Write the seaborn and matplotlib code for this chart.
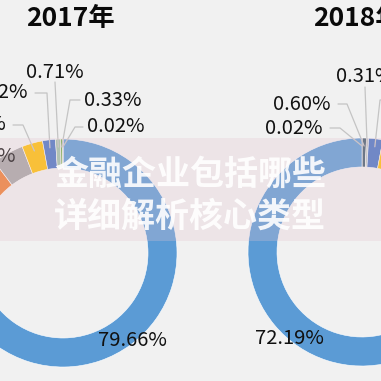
import numpy as np
import matplotlib
matplotlib.use("Agg")
import matplotlib.pyplot as plt
import seaborn as sns

# --------------------------------------------------
# DATA
# --------------------------------------------------

# 2017 slices, clockwise from 12 o'clock
values_2017 = [79.66, 10.10, 4.41, 2.95, 1.82, 0.71, 0.33, 0.02]
labels_2017 = ["79.66%", "10.10%", "4.41%", "2.95%", "1.82%", "0.71%", "0.33%", "0.02%"]
colors_2017 = ["#5b9bd5", "#ed7d31", "#a5a5a5", "#ffc000", "#4472c4", "#9ec2a8", "#70ad47", "#3f5f4a"]

# 2018 slices, clockwise from 12 o'clock
values_2018 = [0.02, 0.60, 0.31, 2.00, 4.20, 6.60, 14.08, 72.19]
labels_2018 = ["0.02%", "0.60%", "0.31%", "2.00%", "4.20%", "6.60%", "14.08%", "72.19%"]
colors_2018 = ["#2e4a6b", "#3e5a6c", "#b8c8c0", "#4472c4", "#ffc000", "#a5a5a5", "#ed7d31", "#5b9bd5"]

titles = ["2017年", "2018年"]
watermark = "金融企业包括哪些\n详细解析核心类型"

# --------------------------------------------------
# LAYOUT (pixel positions, y measured from top)
# --------------------------------------------------

H = 381
centers = [(63, 253), (362, 252)]
R_OUT = 114
RING = 29

# label text: (x, y, ha), elbow x (None = no leader)
lab_pos_2017 = [(132, 340, "center", None), (-5, 190, "right", None),
                (16, 157, "right", None), (6, 125, "right", 23),
                (28, 93, "right", 47), (55, 72, "center", 55),
                (84, 100, "left", 70), (87, 127, "left", 75)]
lab_pos_2018 = [(323, 128, "right", 340), (331, 104, "right", 347),
                (365, 77, "center", 365), (400, 100, "left", 380),
                (410, 130, "left", None), (420, 160, "left", None),
                (420, 200, "left", None), (289, 338, "center", None)]
title_pos = [(70, 18), (357, 18)]


def fy(y):
    return H - y


sns.set_style("white")
plt.rcParams['font.family'] = ['Noto Sans CJK SC', 'DejaVu Sans']

fig = plt.figure(figsize=(3.81, 3.81), dpi=100)
fig.patch.set_facecolor("#f1f1f1")
ax = fig.add_axes([0, 0, 1, 1])
ax.set_facecolor("#f1f1f1")

datasets = [
    (values_2017, labels_2017, colors_2017, lab_pos_2017),
    (values_2018, labels_2018, colors_2018, lab_pos_2018),
]

for (vals, labs, cols, pos), (cx, cy), title, tpos in zip(datasets, centers, titles, title_pos):
    ax.pie(vals, colors=sns.color_palette(cols), startangle=90, counterclock=False,
           radius=R_OUT, center=(cx, fy(cy)),
           wedgeprops=dict(width=RING, edgecolor="white", linewidth=0.4))

    # leader lines and labels
    total = float(sum(vals))
    cum = np.cumsum(vals) - np.array(vals) / 2
    for v, lab, c, (lx, ly, ha, ex) in zip(vals, labs, cum, pos):
        ang = np.deg2rad(c / total * 360)
        r_end = R_OUT - 8
        px = cx + r_end * np.sin(ang)
        py = cy - r_end * np.cos(ang)
        if ex is not None:
            if ha == "center":
                xs, ys = [lx, px], [ly + 10, py]
            elif ha == "right":
                xs, ys = [lx + 7, ex, px], [ly, ly, py]
            else:
                xs, ys = [lx - 4, ex, px], [ly, ly, py]
            ax.plot(xs, [fy(y) for y in ys], color="#c4c4c4", lw=0.9, zorder=3)
        ax.text(lx, fy(ly), lab, ha=ha, va="center", fontsize=14.5,
                color="#111111", zorder=4)

    ax.text(tpos[0], fy(tpos[1]), title, ha="center", va="center",
            fontsize=19, fontweight="bold", color="#0a0a0a")

# watermark band
ax.add_patch(plt.Rectangle((0, fy(241)), H, 103, color="#e6c3ce", alpha=0.28,
                           lw=0, zorder=5))
ax.text(190, fy(195), watermark, ha="center", va="center", fontsize=24.5,
        fontweight="bold", color="white", alpha=0.9, linespacing=1.25, zorder=6)

ax.set_xlim(0, H)
ax.set_ylim(0, H)
ax.set_aspect("equal")
ax.axis("off")

fig.savefig("out.png", dpi=100, facecolor=fig.get_facecolor())
